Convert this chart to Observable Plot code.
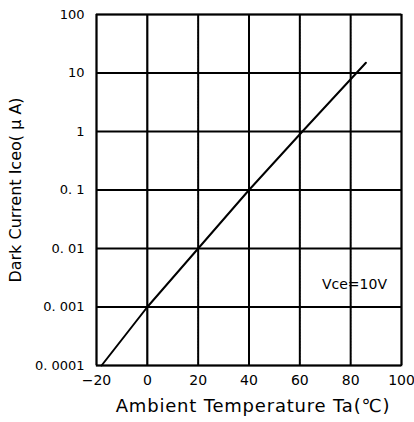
<!DOCTYPE html>
<html><head><meta charset="utf-8">
<script src="https://cdn.jsdelivr.net/npm/d3@7"></script>
<script src="https://cdn.jsdelivr.net/npm/@observablehq/plot@0.6"></script>
<style>body{margin:0;background:#fff}</style>
</head><body><div id="chart"></div>
<script>
const temps = [-18, 0, 20, 40, 61, 86];
const currents = [0.0001, 0.001, 0.01, 0.1, 1, 15];
const xTicks = [-20, 0, 20, 40, 60, 80, 100];
const yTicks = [0.0001, 0.001, 0.01, 0.1, 1, 10, 100];
const yTickLabels = ["0. 0001", "0. 001", "0. 01", "0. 1", "1", "10", "100"];
const note = "Vce=10V";
const noteX = 81.5, noteY = 0.0024;
const xLabel = "Ambient Temperature Ta(\u2103)";
const yLabel = "Dark Current Iceo( \u03bc A)";

const data = temps.map((t, i) => ({t, c: currents[i]}));
const font = "DejaVu Sans, sans-serif";
const gridColor = "#5a5a5a";
const dots = {stroke: gridColor, strokeWidth: 1, strokeDasharray: "1.5,1.5"};
const chart = Plot.plot({
  width: 414, height: 422,
  marginLeft: 96, marginTop: 14, marginRight: 13, marginBottom: 57,
  style: {fontFamily: font, fontSize: "13px", color: "#000", background: "#fff"},
  x: {domain: [-20, 100], ticks: xTicks, label: null},
  y: {type: "log", domain: [0.0001, 100], ticks: yTicks, label: null},
  marks: [
    Plot.ruleX(xTicks.filter(d => d !== 0 && d !== -20 && d !== 100), {x: d => d, ...dots}),
    Plot.ruleY(yTicks.filter(d => d !== 0.0001 && d !== 100), {y: d => d, ...dots}),
    Plot.ruleX([0], {stroke: "#000", strokeWidth: 1.5}),
    Plot.tickX(xTicks, {x: d => d, y1: 0.0001, y2: 0.000125, stroke: "#000", strokeWidth: 2}),
    Plot.tickY(yTicks, {y: d => d, x1: -20, x2: -17.8, stroke: "#000", strokeWidth: 2}),
    Plot.frame({stroke: "#000", strokeWidth: 1.5}),
    Plot.line(data, {x: "t", y: "c", stroke: "#000", strokeWidth: 2}),
    Plot.text([note], {x: noteX, y: noteY, text: d => d, textAnchor: "middle", fontSize: 14, fill: "#000"}),
    Plot.axisX(xTicks, {tickSize: 0, tickPadding: 10, fontSize: 14, tickFormat: d => d < 0 ? "\u2212" + Math.abs(d) : String(d)}),
    Plot.axisY(yTicks, {tickSize: 0, tickPadding: 12, fontSize: 13, tickFormat: d => yTickLabels[yTicks.indexOf(d)]}),
    Plot.text([xLabel], {frameAnchor: "bottom", dx: 4, dy: 46, textAnchor: "middle", text: d => d, fontSize: 18, fill: "#000"}),
    Plot.text([yLabel], {frameAnchor: "left", dx: -81, rotate: -90, textAnchor: "middle", text: d => d, fontSize: 16, fill: "#000"})
  ]
});
d3.select(chart).selectAll("text").filter(function() { return this.textContent === xLabel; }).attr("letter-spacing", "0.8px");
document.getElementById("chart").appendChild(chart);
</script></body></html>
